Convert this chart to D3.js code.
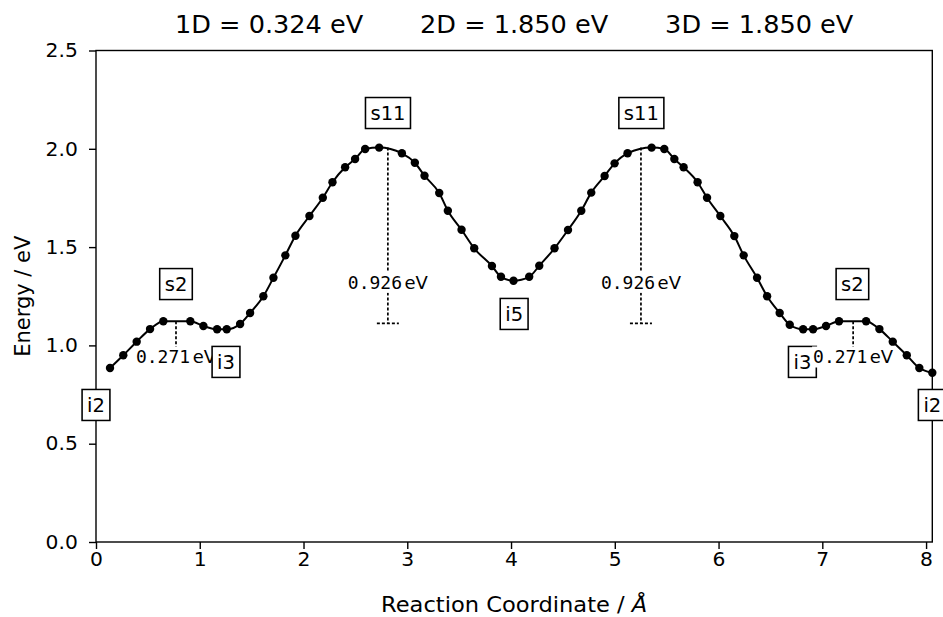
<!DOCTYPE html>
<html>
<head>
<meta charset="utf-8">
<script src="https://cdn.jsdelivr.net/npm/d3@7/dist/d3.min.js"></script>
<style>
    body { margin: 0; background: #fff; }
    text { font-family: "DejaVu Sans", sans-serif; fill: #000; }
</style>
</head>
<body>
<svg id="chart"></svg>
<script>
// image positions along the path (Å) and their energies (eV)
const coords = [0.135, 0.263, 0.392, 0.521, 0.649, 0.909, 1.035, 1.167, 1.260, 1.389,
    1.485, 1.613, 1.710, 1.825, 1.922, 2.057, 2.186, 2.279, 2.401, 2.497,
    2.594, 2.729, 2.948, 3.073, 3.166, 3.308, 3.391, 3.523, 3.645, 3.816,
    3.903, 4.024, 4.175, 4.272, 4.419, 4.549, 4.677, 4.773, 4.902, 4.998,
    5.123, 5.355, 5.477, 5.574, 5.663, 5.798, 5.889, 6.017, 6.152, 6.242,
    6.371, 6.468, 6.589, 6.686, 6.815, 6.911, 7.036, 7.161, 7.422, 7.550,
    7.679, 7.814, 7.935, 8.060];
const energies = [0.885, 0.950, 1.019, 1.083, 1.123, 1.123, 1.099, 1.082, 1.082, 1.109,
    1.165, 1.250, 1.344, 1.458, 1.558, 1.658, 1.751, 1.830, 1.906, 1.948,
    1.999, 2.006, 1.977, 1.929, 1.863, 1.775, 1.685, 1.588, 1.494, 1.404,
    1.349, 1.329, 1.349, 1.405, 1.494, 1.587, 1.685, 1.777, 1.862, 1.926,
    1.977, 2.006, 1.999, 1.948, 1.906, 1.830, 1.751, 1.658, 1.556, 1.458,
    1.344, 1.250, 1.165, 1.105, 1.082, 1.082, 1.099, 1.123, 1.123, 1.083,
    1.019, 0.950, 0.885, 0.861];

const xTicks = [0, 1, 2, 3, 4, 5, 6, 7, 8];
const yTicks = [0, 0.5, 1.0, 1.5, 2.0, 2.5];
const titleParts = ["1D = 0.324 eV", "2D = 1.850 eV", "3D = 1.850 eV"];

// stationary points, in path order
const pointNames = ["i2", "s2", "i3", "s11", "i5", "s11", "i3", "s2", "i2"];
const pointX = [0, 0.771, 1.253, 2.814, 4.03, 5.256, 6.808, 7.29, 8.06];
const pointLabelE = [0.697, 1.312, 0.916, 2.182, 1.16, 2.182, 0.916, 1.312, 0.697];

// barrier annotations (null for minima)
const barrierValues = [null, "0.271", null, "0.926", null, "0.926", null, "0.271", null];
const barrierX = [null, 0.771, null, 2.813, null, 5.252, null, 7.297, null];
const barrierTop = [null, 1.123, null, 2.006, null, 2.006, null, 1.123, null];
const barrierBottom = [null, 0.94, null, 1.112, null, 1.112, null, 0.94, null];
const barrierTextE = [null, 0.941, null, 1.321, null, 1.321, null, 0.941, null];

const config = {
    width: 943, height: 617,
    margin: {top: 50.5, right: 10.7, bottom: 75, left: 96},
    sx: 1.04 // picture was resized a little, text is slightly wide
};

const svg = d3.select("#chart")
    .attr("width", config.width)
    .attr("height", config.height);

const x = d3.scaleLinear()
    .domain([0, d3.max(coords)])
    .range([config.margin.left, config.width - config.margin.right]);

const y = d3.scaleLinear()
    .domain([0, 2.5])
    .range([config.height - config.margin.bottom, config.margin.top]);

const sx = config.sx;

// axes
svg.append("g")
    .attr("transform", `translate(0, ${y(0)})`)
    .call(d3.axisBottom(x).tickValues(xTicks).tickFormat(d3.format("d")).tickSize(7).tickPadding(3))
    .call(g => g.select(".domain").remove())
    .call(g => g.selectAll("line").attr("stroke-width", 1.4))
    .call(g => g.selectAll("text")
        .attr("font-size", "19.5px")
        .attr("font-family", "DejaVu Sans")
        .attr("fill", "#000")
        .attr("transform", `scale(${sx},1)`));

svg.append("g")
    .attr("transform", `translate(${x(0)}, 0)`)
    .call(d3.axisLeft(y).tickValues(yTicks).tickFormat(d3.format(".1f")).tickSize(7).tickPadding(10.5))
    .call(g => g.select(".domain").remove())
    .call(g => g.selectAll("line").attr("stroke-width", 1.4))
    .call(g => g.selectAll("text")
        .attr("font-size", "19.5px")
        .attr("font-family", "DejaVu Sans")
        .attr("fill", "#000")
        .attr("transform", `scale(${sx},1)`));

// plot frame
svg.append("rect")
    .attr("x", x.range()[0]).attr("y", y.range()[1])
    .attr("width", x.range()[1] - x.range()[0])
    .attr("height", y.range()[0] - y.range()[1])
    .attr("fill", "none")
    .attr("stroke", "#000")
    .attr("stroke-width", 1.4);

// axis labels
svg.append("text")
    .attr("transform", `translate(${(x.range()[0] + x.range()[1]) / 2}, 612) scale(${sx},1)`)
    .attr("text-anchor", "middle")
    .attr("font-size", "21.7px")
    .call(t => {
        t.append("tspan").text("Reaction Coordinate / ");
        t.append("tspan").attr("font-style", "italic").text("Å");
    });

svg.append("text")
    .attr("transform", `translate(30, ${(y.range()[0] + y.range()[1]) / 2}) scale(${sx},1) rotate(-90)`)
    .attr("text-anchor", "middle")
    .attr("font-size", "21px")
    .text("Energy / eV");

// title
svg.append("text")
    .attr("transform", `translate(${(x.range()[0] + x.range()[1]) / 2}, 33) scale(${sx},1)`)
    .attr("text-anchor", "middle")
    .attr("font-size", "24.6px")
    .style("white-space", "pre")
    .text(titleParts.join("       "));

// band
const pts = coords.map((c, i) => ({c: c, e: energies[i]}));
const plot = svg.append("g");

plot.append("path")
    .datum(pts)
    .attr("fill", "none")
    .attr("stroke", "#000")
    .attr("stroke-width", 2)
    .attr("d", d3.line().curve(d3.curveMonotoneX).x(d => x(d.c)).y(d => y(d.e)));

plot.selectAll("circle")
    .data(pts)
    .join("circle")
    .attr("cx", d => x(d.c))
    .attr("cy", d => y(d.e))
    .attr("r", 4.2)
    .attr("fill", "#000");

// labels and barriers, drawn in path order so overlaps stack the same way
pointNames.forEach((name, i) => {
    const g = plot.append("g")
        .attr("transform", `translate(${x(pointX[i])}, ${y(pointLabelE[i])}) scale(${sx},1)`);
    const t = g.append("text")
        .attr("text-anchor", "middle")
        .attr("dy", "0.36em")
        .attr("font-size", "18.8px")
        .text(name);
    const b = t.node().getBBox();
    g.insert("rect", "text")
        .attr("x", b.x - 4.8).attr("y", -15.5)
        .attr("width", b.width + 9.6).attr("height", 31)
        .attr("fill", "#fff")
        .attr("stroke", "#000")
        .attr("stroke-width", 1.5);

    if (barrierValues[i] === null) return;

    const bx = x(barrierX[i]);
    plot.append("line")
        .attr("x1", bx).attr("x2", bx)
        .attr("y1", y(barrierTop[i])).attr("y2", y(barrierBottom[i]))
        .attr("stroke", "#000")
        .attr("stroke-width", 1.7)
        .attr("stroke-dasharray", "3,2");
    plot.append("line")
        .attr("x1", bx - 11).attr("x2", bx + 11)
        .attr("y1", y(barrierBottom[i])).attr("y2", y(barrierBottom[i]))
        .attr("stroke", "#000")
        .attr("stroke-width", 1.7)
        .attr("stroke-dasharray", "3,2");

    const tg = plot.append("g")
        .attr("transform", `translate(${bx}, ${y(barrierTextE[i])}) scale(${sx},1)`);
    const tt = tg.append("text")
        .attr("text-anchor", "middle")
        .attr("dy", "0.36em")
        .attr("font-size", "17.3px")
        .call(s => {
            s.append("tspan").attr("font-family", "DejaVu Sans Mono").text(barrierValues[i]);
            s.append("tspan").attr("dx", 2.5).text("eV");
        });
    const tb = tt.node().getBBox();
    tg.insert("rect", "text")
        .attr("x", tb.x - 1).attr("y", -10.5)
        .attr("width", tb.width + 2).attr("height", 21)
        .attr("fill", "#fff");
});
</script>
</body>
</html>
